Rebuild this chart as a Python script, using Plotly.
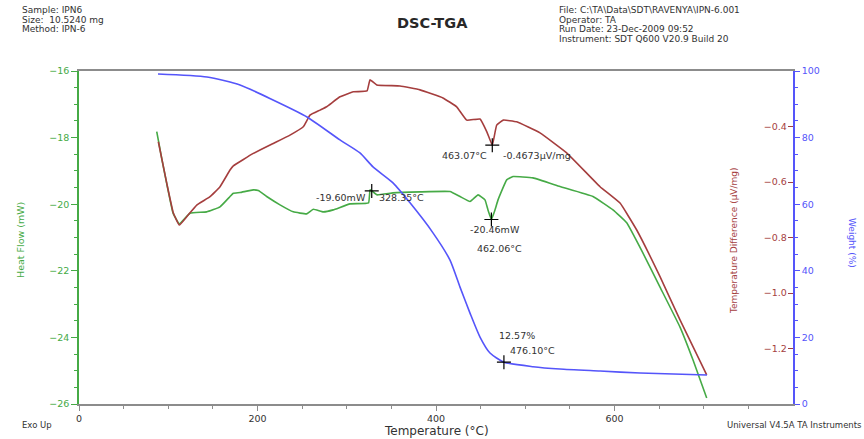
import plotly.graph_objects as go

# ---- data -------------------------------------------------------------
# Heat flow (mW) vs temperature (°C)
hf_temp = [87.1, 93.0, 99.7, 105.3, 112.4, 124.4, 143.1, 158.0, 169.2, 172.9, 180.4,
           195.3, 200.9, 210.3, 225.2, 240.1, 255.1, 262.5, 273.7, 284.9, 303.6,
           324.4, 326.1, 328.0, 333.9, 351.8, 382.1, 415.7, 426.9, 438.1, 447.1,
           454.9, 458.2, 462.06, 466.1, 469.5, 479.2, 486.3, 508.7, 538.9, 575.9,
           598.3, 613.7, 631.9, 651.0, 673.4, 688.0, 703.3]
hf_val = [-17.82, -18.67, -19.57, -20.26, -20.59, -20.27, -20.23, -20.08, -19.77, -19.67, -19.65,
          -19.57, -19.59, -19.77, -20.02, -20.23, -20.29, -20.15, -20.23, -20.17, -19.99,
          -19.96, -19.57, -19.60, -19.72, -19.66, -19.63, -19.62, -19.77, -19.92, -19.72,
          -19.87, -20.17, -20.46, -20.17, -19.87, -19.27, -19.17, -19.21, -19.47, -19.77,
          -20.17, -20.56, -21.47, -22.49, -23.69, -24.68, -25.82]

# Temperature difference (µV/mg) vs temperature (°C)
td_temp = [88.9, 98.3, 105.7, 112.4, 120.7, 131.9, 146.8, 158.0, 169.2, 172.9, 195.3,
           217.7, 236.4, 251.3, 258.8, 270.0, 277.5, 292.4, 307.3, 322.7, 326.1,
           333.6, 359.7, 382.1, 407.8, 423.2, 434.4, 449.3, 457.1, 463.07, 468.0,
           475.4, 490.4, 516.5, 546.4, 583.8, 606.2, 624.9, 651.0, 673.4, 703.3]
td_val = [-0.455, -0.604, -0.712, -0.755, -0.725, -0.683, -0.653, -0.617, -0.557, -0.542, -0.497,
          -0.461, -0.431, -0.401, -0.359, -0.341, -0.329, -0.293, -0.275, -0.272, -0.232,
          -0.250, -0.254, -0.268, -0.297, -0.329, -0.377, -0.373, -0.420, -0.4673, -0.395,
          -0.377, -0.383, -0.423, -0.495, -0.617, -0.676, -0.773, -0.941, -1.097, -1.295]

# Weight (%) vs temperature (°C)
wt_temp = [88.5, 143.4, 180.4, 217.4, 255.5, 292.4, 314.8, 329.4, 351.8, 370.9, 396.6,
           415.7, 426.9, 438.1, 449.3, 460.5, 476.10, 508.7, 538.9, 583.8, 628.6, 703.6]
wt_val = [99.1, 98.2, 95.8, 91.3, 86.2, 79.3, 75.4, 71.2, 66.4, 60.4, 51.4,
          43.2, 35.1, 27.3, 20.1, 15.3, 12.57, 11.2, 10.5, 9.9, 9.3, 8.7]

# Analysis cursors
hf_peaks = [(328.0, -19.60, "328.35°C"), (462.06, -20.46, "462.06°C")]
td_peak = (463.07, -0.4673)
wt_point = (476.10, 12.57)

x_ticks = [0, 200, 400, 600, 800]
hf_ticks = [-26, -24, -22, -20, -18, -16]
td_ticks = [-1.2, -1.0, -0.8, -0.6, -0.4]
wt_ticks = [0, 20, 40, 60, 80, 100]

left_hdr = ["Sample: IPN6", "Size:  10.5240 mg", "Method: IPN-6"]
right_hdr = ["File: C:\\TA\\Data\\SDT\\RAVENYA\\IPN-6.001", "Operator: TA",
             "Run Date: 23-Dec-2009 09:52", "Instrument: SDT Q600 V20.9 Build 20"]

# ---- styling ----------------------------------------------------------
GREEN = "rgb(70,170,70)"
RED = "rgb(165,62,62)"
BLUE = "rgb(85,85,250)"
GRAY = "rgb(140,140,140)"
TXT = "rgb(50,50,50)"
FONT = "DejaVu Sans, Verdana, sans-serif"

# figure size and plot-area margins (px)
W, H = 864, 439
L, R, T, B = 79, 71, 71, 35
pw, ph = W - L - R, H - T - B


def px_x(x):
    return (x - L) / pw


def px_y(y):
    return (H - B - y) / ph


fig = go.Figure()
fig.add_trace(go.Scatter(x=hf_temp, y=hf_val, mode="lines",
                         line=dict(color=GREEN, width=1.6, shape="spline", smoothing=0.3),
                         yaxis="y", showlegend=False, hoverinfo="skip"))
fig.add_trace(go.Scatter(x=td_temp, y=td_val, mode="lines",
                         line=dict(color=RED, width=1.6, shape="spline", smoothing=0.3),
                         yaxis="y2", showlegend=False, hoverinfo="skip"))
fig.add_trace(go.Scatter(x=wt_temp, y=wt_val, mode="lines",
                         line=dict(color=BLUE, width=1.6, shape="spline", smoothing=0.6),
                         yaxis="y3", showlegend=False, hoverinfo="skip"))

cross = dict(symbol="cross-thin", size=10, line=dict(color="black", width=1.2))
fig.add_trace(go.Scatter(x=[p[0] for p in hf_peaks], y=[p[1] for p in hf_peaks], mode="markers",
                         marker=cross, yaxis="y", showlegend=False, hoverinfo="skip"))
fig.add_trace(go.Scatter(x=[td_peak[0]], y=[td_peak[1]], mode="markers",
                         marker=cross, yaxis="y2", showlegend=False, hoverinfo="skip"))
fig.add_trace(go.Scatter(x=[wt_point[0]], y=[wt_point[1]], mode="markers",
                         marker=cross, yaxis="y3", showlegend=False, hoverinfo="skip"))

ann = []


def label(text, x, y, yref, xshift=0, yshift=0, xanchor="center", size=9.5):
    ann.append(dict(text=text, x=x, y=y, xref="x", yref=yref, showarrow=False,
                    xanchor=xanchor, yanchor="middle", xshift=xshift, yshift=yshift,
                    font=dict(size=size, color=TXT, family=FONT)))


def paper_text(text, x, y, size, color=TXT, xanchor="left", angle=0):
    ann.append(dict(text=text, x=px_x(x), y=px_y(y), xref="paper", yref="paper",
                    showarrow=False, xanchor=xanchor, yanchor="middle", textangle=angle,
                    font=dict(size=size, color=color, family=FONT)))


# heat flow cursors
t, v, tl = hf_peaks[0]
label(f"{v:.2f}mW", t, v, "y", xshift=-4, yshift=-7, xanchor="right")
label(tl, t, v, "y", xshift=5, yshift=-7, xanchor="left")
t, v, tl = hf_peaks[1]
label(f"{v:.2f}mW", t, v, "y", xshift=4, yshift=-10, xanchor="center")
label(tl, t, v, "y", xshift=8, yshift=-29, xanchor="center")
# temperature difference cursor
label(f"{td_peak[0]:.2f}°C", td_peak[0], td_peak[1], "y2", xshift=-3, yshift=-10, xanchor="right")
label(f"{td_peak[1]:.4f}µV/mg", td_peak[0], td_peak[1], "y2", xshift=9, yshift=-10, xanchor="left")
# weight cursor
label(f"{wt_point[1]:.2f}%", wt_point[0], wt_point[1], "y3", xshift=-7, yshift=27, xanchor="left")
label(f"{wt_point[0]:.2f}°C", wt_point[0], wt_point[1], "y3", xshift=4, yshift=12, xanchor="left")

# axis titles
paper_text("Heat Flow (mW)", 20, 240, 9.5, GREEN, "center", -90)
paper_text("Temperature Difference (µV/mg)", 734, 241, 9, RED, "center", -90)
paper_text("Weight (%)", 852, 243, 9, BLUE, "center", 90)
paper_text("Temperature (°C)", 436, 431, 12, TXT, "center")

# header block
for i, s in enumerate(left_hdr):
    paper_text(s, 20, 10 + 9.5 * i, 9)
for i, s in enumerate(right_hdr):
    paper_text(s, 557, 10 + 9.5 * i, 9)
paper_text("<b>DSC-TGA</b>", 432, 23, 14.5, "rgb(40,40,40)", "center")
paper_text("Exo Up", 20, 425, 8.5)
paper_text("Universal V4.5A TA Instruments", 864, 425, 8.5, TXT, "right")

fig.update_layout(
    width=W, height=H,
    margin=dict(l=L, r=R, t=T, b=B, autoexpand=False),
    paper_bgcolor="white", plot_bgcolor="white",
    font=dict(family=FONT, size=10, color=TXT),
    xaxis=dict(range=[0, 800], tickvals=x_ticks, ticks="outside", ticklen=5, tickcolor=GRAY,
               showline=True, linecolor=GRAY, linewidth=2, mirror=True, showgrid=False,
               zeroline=False, automargin=False, tickfont=dict(size=9.5, color=TXT),
               minor=dict(dtick=50, ticks="outside", ticklen=3, tickcolor=GRAY)),
    yaxis=dict(range=[-26, -16], tickvals=hf_ticks, ticks="outside", ticklen=6, tickcolor=GREEN,
               showline=True, linecolor=GREEN, linewidth=1.5, showgrid=False, zeroline=False,
               automargin=False, tickfont=dict(size=9.5, color=GREEN),
               minor=dict(dtick=0.5, ticks="outside", ticklen=3, tickcolor=GREEN)),
    yaxis2=dict(range=[-1.4, -0.2], tickvals=td_ticks, tickformat=".1f", overlaying="y",
                side="right", anchor="x", ticks="inside", ticklen=5, tickcolor=RED,
                ticklabelposition="inside", showline=False, showgrid=False, zeroline=False,
                automargin=False, tickfont=dict(size=9.5, color=RED)),
    yaxis3=dict(range=[0, 100], tickvals=wt_ticks, overlaying="y", side="right", anchor="x",
                ticks="outside", ticklen=5, tickcolor=BLUE, showline=True, linecolor=BLUE,
                linewidth=1.5, showgrid=False, zeroline=False, automargin=False,
                tickfont=dict(size=9.5, color=BLUE),
                minor=dict(dtick=5, ticks="outside", ticklen=3, tickcolor=BLUE)),
    annotations=ann,
)

fig.write_html("out.html")
